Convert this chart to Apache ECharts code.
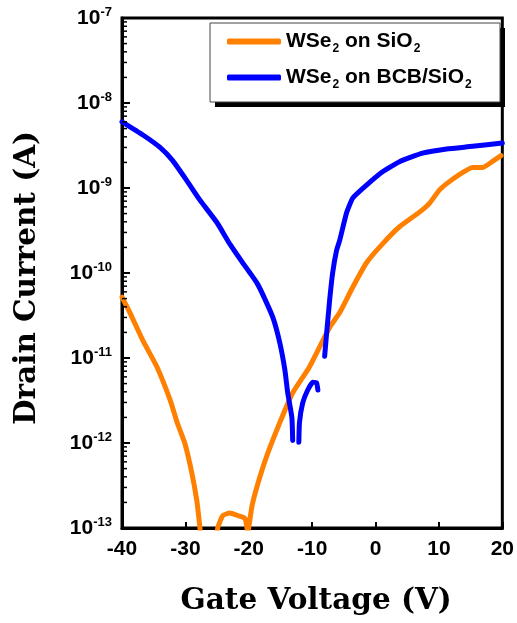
<!DOCTYPE html>
<html>
<head>
<meta charset="utf-8">
<script src="https://cdn.jsdelivr.net/npm/echarts@6/dist/echarts.min.js"></script>
<style>
html,body{margin:0;padding:0;background:#fff;}
#chart{width:517px;height:623px;}
</style>
</head>
<body>
<div id="chart"></div>
<script>
// Gate voltage (V) and drain current (A)
const sio2V = [-40,-38.74,-36.7,-34.5,-32.4,-31.3,-30.1,-29.0,-28.2,-27.7,-27.3,-25.3,-24.9,-24.1,-23.0,-21.73,-20.6,-20.16,-19.5,-18.74,-17.2,-15.1,-13.07,-10.4,-7.24,-5.67,-3.6,-1.42,1.1,3.78,6.93,8.5,10.1,12.1,15.3,16.85,18.4,19.8];
const sio2I = [5.2e-11,3.4e-11,1.6e-11,7.9e-12,3.2e-12,1.74e-12,1.0e-12,4.5e-13,2.1e-13,1.0e-13,5e-14,5e-14,1.0e-13,1.4e-13,1.5e-13,1.4e-13,1.3e-13,9e-14,1.8e-13,3.0e-13,6.9e-13,1.74e-12,3.9e-12,7.9e-12,2.3e-11,3.4e-11,6.8e-11,1.32e-10,2.2e-10,3.5e-10,5.2e-10,6.6e-10,9.5e-10,1.26e-9,1.74e-9,1.74e-9,2.04e-9,2.4e-9];

const bcbV1 = [-40,-36.7,-34.0,-32.0,-29.8,-27.7,-25.0,-23.0,-20.9,-19.8,-18.7,-17.8,-16.2,-15.1,-14.3,-13.86,-13.2,-13.07];
const bcbI1 = [6.0e-9,4.2e-9,3.0e-9,2.1e-9,1.23e-9,7.2e-10,3.9e-10,2.2e-10,1.3e-10,1.0e-10,7.6e-11,5.6e-11,3.0e-11,1.5e-11,7.2e-12,3.9e-12,2.0e-12,1.07e-12];
const bcbV2 = [-12.1,-12.0,-11.5,-10.7,-9.9,-9.3,-9.1];
const bcbI2 = [1.02e-12,1.74e-12,2.95e-12,4.2e-12,5.2e-12,5.1e-12,4.2e-12];
const bcbV3 = [-8.03,-7.72,-7.24,-6.77,-6.14,-5.67,-4.57,-3.6,-1.42,1.1,3.78,7.4,11.2,15.3,20];
const bcbI3 = [1.05e-11,1.95e-11,4.8e-11,1.0e-10,1.86e-10,2.4e-10,5.1e-10,7.6e-10,1.08e-9,1.55e-9,2.04e-9,2.57e-9,2.88e-9,3.09e-9,3.39e-9];

const xTicks = [-40,-30,-20,-10,0,10,20];
const yExponents = ['-13','-12','-11','-10','-9','-8','-7'];
const minorMultiples = [2,3,4,5,6,7,8,9];
const seriesNames = ['WSe2 on SiO2','WSe2 on BCB/SiO2'];
const legendRich = {
  'WSe2 on SiO2': '{n|WSe}{s|2}{n| on SiO}{s|2}',
  'WSe2 on BCB/SiO2': '{n|WSe}{s|2}{n| on BCB/SiO}{s|2}'
};

const zip = (a,b) => a.map((v,i)=>[v,b[i]]);
const ORANGE = '#FF8000', BLUE = '#0000FF';

// minor tick values of the log axis (k x 10^n), placed through the axis scale
const minorTickValues = [];
yExponents.slice(0, -1).forEach(e => minorMultiples.forEach(m => minorTickValues.push([xTicks[0], m * Math.pow(10, Number(e))])));

const chart = echarts.init(document.getElementById('chart'), null, {renderer:'canvas'});
const lineCommon = {type:'line', symbol:'none', smooth:0.15, clip:true, z:2};
const ls = c => ({width:5, color:c, cap:'round', join:'round'});

chart.setOption({
  animation:false,
  backgroundColor:'#fff',
  grid:{left:122, right:14, top:18, bottom:95, show:true, borderColor:'#000', borderWidth:3, backgroundColor:'transparent'},
  graphic:[
    {type:'rect', z:5, shape:{x:215, y:28, width:290, height:79}, style:{fill:'#000'}},
    {type:'rect', z:6, shape:{x:210, y:23, width:290, height:79}, style:{fill:'#fff', stroke:'#444', lineWidth:1}}
  ],
  legend:{
    data:seriesNames,
    left:210, top:23, z:10,
    orient:'vertical',
    icon:'roundRect',
    itemWidth:54, itemHeight:6, itemGap:9,
    padding:[5,10,8,17],
    formatter: name => legendRich[name],
    textStyle:{
      rich:{
        n:{fontFamily:'Liberation Sans', fontWeight:'bold', fontSize:21, color:'#000', lineHeight:27},
        s:{fontFamily:'Liberation Sans', fontWeight:'bold', fontSize:12, color:'#000', lineHeight:27, verticalAlign:'bottom', padding:[15,0,0,1]}
      }
    }
  },
  xAxis:{
    type:'value', min:-40, max:20, interval:10,
    name:'Gate Voltage (V)', nameLocation:'middle', nameGap:58,
    nameTextStyle:{fontFamily:'DejaVu Serif', fontWeight:'bold', fontSize:29.5, color:'#000', padding:[0,0,0,8]},
    axisLine:{show:true, onZero:false, lineStyle:{color:'#000', width:3}},
    axisTick:{show:true, inside:true, length:6, lineStyle:{color:'#000', width:2}},
    axisLabel:{margin:11, fontFamily:'Liberation Sans', fontWeight:'bold', fontSize:21, color:'#000',
      formatter: v => xTicks.includes(v) ? String(v) : ''},
    splitLine:{show:false}
  },
  yAxis:{
    type:'log', min:1e-13, max:1e-7, logBase:10,
    name:'Drain Current (A)', nameLocation:'middle', nameGap:80, nameRotate:90,
    nameTextStyle:{fontFamily:'DejaVu Serif', fontWeight:'bold', fontSize:29.5, color:'#000', padding:[0,0,0,-10]},
    axisLine:{show:true, onZero:false, lineStyle:{color:'#000', width:3}},
    axisTick:{show:true, inside:true, length:8, lineStyle:{color:'#000', width:2}},
    axisLabel:{margin:10, fontFamily:'Liberation Sans', fontWeight:'bold', color:'#000',
      formatter: v => { const e = String(Math.round(Math.log10(v))); return yExponents.includes(e) ? '{b|10}{s|' + e + '}' : ''; },
      rich:{
        b:{fontFamily:'Liberation Sans', fontWeight:'bold', fontSize:21, color:'#000', lineHeight:24},
        s:{fontFamily:'Liberation Sans', fontSize:13, color:'#000', verticalAlign:'top', lineHeight:24, padding:[0,0,10,0]}
      }},
    splitLine:{show:false}
  },
  series:[
    Object.assign({}, lineCommon, {name:seriesNames[0], color:ORANGE, data:zip(sio2V,sio2I), lineStyle:ls(ORANGE)}),
    Object.assign({}, lineCommon, {name:seriesNames[1], color:BLUE, data:zip(bcbV1,bcbI1), lineStyle:ls(BLUE)}),
    Object.assign({}, lineCommon, {name:seriesNames[1], color:BLUE, data:zip(bcbV2,bcbI2), lineStyle:ls(BLUE)}),
    Object.assign({}, lineCommon, {name:seriesNames[1], color:BLUE, data:zip(bcbV3,bcbI3), lineStyle:ls(BLUE)}),
    {
      type:'custom', name:'minorTicks', silent:true, clip:false, z:3,
      data:minorTickValues,
      encode:{x:0, y:1},
      renderItem:(params, api) => {
        const p = api.coord([api.value(0), api.value(1)]);
        return {type:'line', shape:{x1:p[0], y1:p[1], x2:p[0] + 5, y2:p[1]}, style:{stroke:'#000', lineWidth:1.5}};
      }
    }
  ]
});
</script>
</body>
</html>
